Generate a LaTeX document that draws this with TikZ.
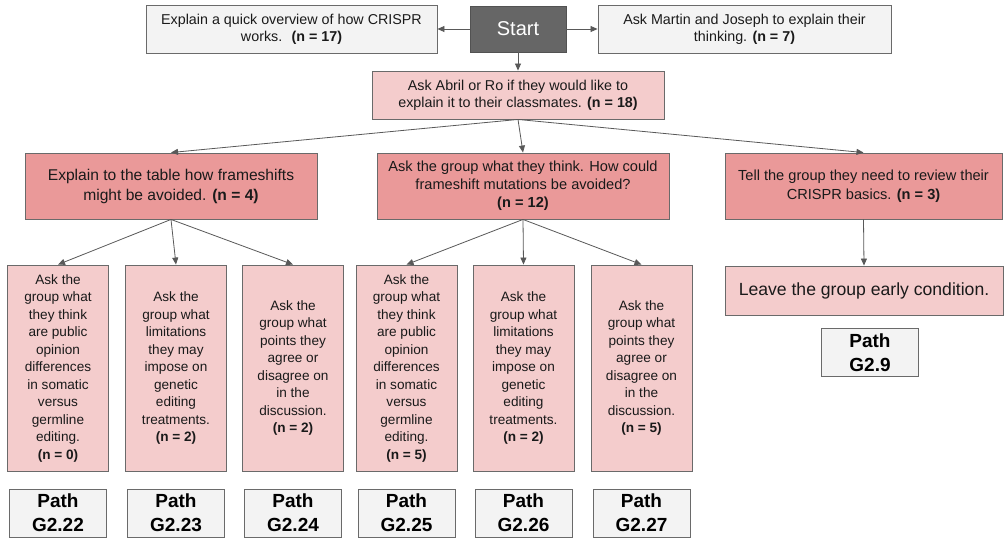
\documentclass[tikz,border=0pt]{standalone}
\usepackage{fontspec}
\setmainfont{Liberation Sans}
\usetikzlibrary{arrows.meta}
\definecolor{boxline}{HTML}{6A6A6A}
\definecolor{greyfill}{HTML}{F3F3F3}
\definecolor{startfill}{HTML}{666666}
\definecolor{pinklight}{HTML}{F4CCCC}
\definecolor{pinkdark}{HTML}{EA9999}
\definecolor{arrowgrey}{HTML}{595959}
\definecolor{ink}{HTML}{1A1A1A}

\begin{document}
\begin{tikzpicture}[x=1pt,y=-1pt,
  box/.style={draw=boxline, line width=0.9pt, inner sep=0pt, align=center, text=ink},
  greybox/.style={box, fill=greyfill},
  startbox/.style={box, draw=startfill!80!black, fill=startfill, text=white, font=\fontsize{20}{24}\selectfont},
  lightbox/.style={box, fill=pinklight},
  darkbox/.style={box, fill=pinkdark},
  topfont/.style={font=\fontsize{14.3}{17}\selectfont},
  choicefont/.style={font=\fontsize{13.6}{17.5}\selectfont},
  choicebox/.style={lightbox, choicefont, minimum width=101pt, minimum height=206pt},
  pathbox/.style={greybox, text=black, minimum width=97pt, minimum height=48pt, font=\fontsize{19}{24}\selectfont\bfseries},
  link/.style={draw=arrowgrey, line width=0.8pt, -{Triangle[length=7pt,width=6pt]}}
]
\useasboundingbox (0,0) rectangle (1007,539);
\fill[white] (0,0) rectangle (1007,539);

% top row
\node[startbox, minimum width=96pt, minimum height=46pt] (start) at (518,29) {Start};
\node[greybox, topfont, minimum width=291pt, minimum height=48pt] (overview) at (291.5,29)
  {Explain a quick overview of how CRISPR\\works.~ \textbf{(n = 17)}};
\node[greybox, topfont, minimum width=293pt, minimum height=48pt] (martin) at (744.5,29)
  {Ask Martin and Joseph to explain their\\thinking. \textbf{(n = 7)}};
\node[lightbox, topfont, minimum width=292pt, minimum height=48pt] (abril) at (518,95)
  {Ask Abril or Ro if they would like to\\explain it to their classmates. \textbf{(n = 18)}};

% second level
\node[darkbox, font=\fontsize{15.6}{20}\selectfont, minimum width=292pt, minimum height=66pt] (table) at (171,186)
  {Explain to the table how frameshifts\\might be avoided. \textbf{(n = 4)}};
\node[darkbox, font=\fontsize{14.6}{18}\selectfont, minimum width=292pt, minimum height=66pt] (group) at (523,186)
  {Ask the group what they think. How could\\frameshift mutations be avoided?\\\textbf{(n = 12)}};
\node[darkbox, font=\fontsize{14.6}{19}\selectfont, minimum width=277pt, minimum height=66pt] (basics) at (863.5,186)
  {Tell the group they need to review their\\CRISPR basics. \textbf{(n = 3)}};

% third level, left branch
\node[choicebox] (a1) at (58,368)
  {Ask the\\group what\\they think\\are public\\opinion\\differences\\in somatic\\versus\\germline\\editing.\\\textbf{(n = 0)}};
\node[choicebox] (a2) at (176,368)
  {Ask the\\group what\\limitations\\they may\\impose on\\genetic\\editing\\treatments.\\\textbf{(n = 2)}};
\node[choicebox] (a3) at (293,368)
  {Ask the\\group what\\points they\\agree or\\disagree on\\in the\\discussion.\\\textbf{(n = 2)}};

% third level, middle branch
\node[choicebox] (b1) at (406.5,368)
  {Ask the\\group what\\they think\\are public\\opinion\\differences\\in somatic\\versus\\germline\\editing.\\\textbf{(n = 5)}};
\node[choicebox] (b2) at (523.5,368)
  {Ask the\\group what\\limitations\\they may\\impose on\\genetic\\editing\\treatments.\\\textbf{(n = 2)}};
\node[choicebox] (b3) at (641.5,368)
  {Ask the\\group what\\points they\\agree or\\disagree on\\in the\\discussion.\\\textbf{(n = 5)}};

% third level, right branch
\node[lightbox, font=\fontsize{17.6}{21}\selectfont, minimum width=278pt, minimum height=49pt] (leave) at (864,290.5)
  {Leave the group early condition.};
\node[pathbox] (p9) at (870,352.5) {Path\\G2.9};

% path labels
\node[pathbox] (p22) at (58,513) {Path\\G2.22};
\node[pathbox] (p23) at (176,513) {Path\\G2.23};
\node[pathbox] (p24) at (293,513) {Path\\G2.24};
\node[pathbox] (p25) at (406.5,513) {Path\\G2.25};
\node[pathbox] (p26) at (523.5,513) {Path\\G2.26};
\node[pathbox] (p27) at (641.5,513) {Path\\G2.27};

% connectors
\draw[link] (start) -- (overview);
\draw[link] (start) -- (martin);
\draw[link] (start) -- (abril);
\draw[link] (abril.south) -- (table.north);
\draw[link] (abril.south) -- (group.north);
\draw[link] (abril.south) -- (basics.north);
\draw[link] (table.south) -- (a1.north);
\draw[link] (table.south) -- (a2.north);
\draw[link] (table.south) -- (a3.north);
\draw[link] (group.south) -- (b1.north);
\draw[link] (group.south) -- (b2.north);
\draw[link] (group.south) -- (b3.north);
\draw[link] (basics.south) -- (leave.north);
\end{tikzpicture}
\end{document}
